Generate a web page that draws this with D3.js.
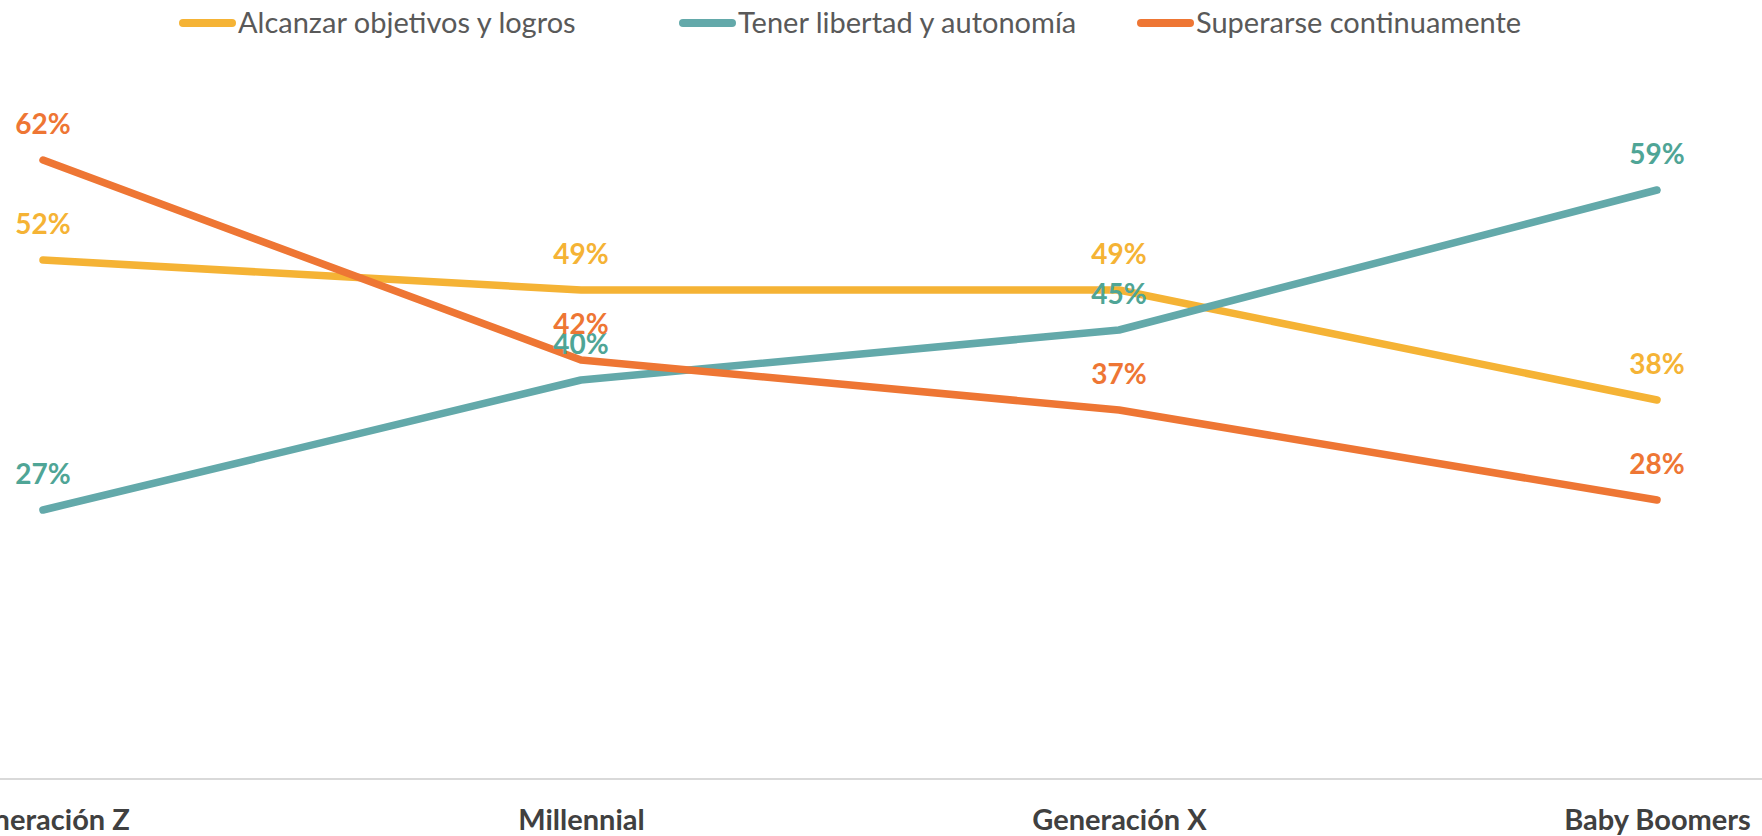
<!DOCTYPE html>
<html lang="es">
<head>
    <meta charset="UTF-8">
    <title>Motivaciones por generación</title>
    <script src="https://d3js.org/d3.v7.min.js"></script>
    <style>
        body {
            margin: 0;
            background: #fff;
            overflow: hidden;
        }
        svg {
            display: block;
            font-family: Lato, "Open Sans", sans-serif;
        }
        .legend-label {
            fill: #595959;
            font-size: 29px;
        }
        .cat-label {
            fill: #404040;
            font-size: 29px;
            font-weight: bold;
        }
        .data-label {
            font-size: 28px;
            font-weight: bold;
        }
        .series-line {
            fill: none;
            stroke-width: 7.5;
            stroke-linecap: round;
            stroke-linejoin: round;
        }
    </style>
</head>
<body>
    <svg id="chart" width="1762" height="836"></svg>
    <script>
        // datos
        const categories = ["Generación Z", "Millennial", "Generación X", "Baby Boomers"];
        const seriesNames = ["Alcanzar objetivos y logros", "Tener libertad y autonomía", "Superarse continuamente"];
        const logros = [0.52, 0.49, 0.49, 0.38];
        const libertad = [0.27, 0.40, 0.45, 0.59];
        const superarse = [0.62, 0.42, 0.37, 0.28];
        const lineColors = ["#F5B335", "#63A9AA", "#EE7634"];
        const labelColors = ["#F5B335", "#4FA596", "#EE7634"];

        const series = [logros, libertad, superarse].map((values, i) => ({
            name: seriesNames[i],
            values: values,
            color: lineColors[i],
            labelColor: labelColors[i]
        }));

        const svg = d3.select("#chart"),
              width = +svg.attr("width"),
              height = +svg.attr("height");

        const x = d3.scalePoint()
            .domain(categories)
            .range([43, 1657]);

        const y = d3.scaleLinear()
            .domain([0, 0.7])
            .range([780, 80]);

        // eje horizontal
        svg.append("line")
            .attr("x1", 0)
            .attr("x2", width)
            .attr("y1", 779)
            .attr("y2", 779)
            .attr("stroke", "#d9d9d9")
            .attr("stroke-width", 2);

        const xAxis = svg.append("g")
            .attr("transform", "translate(0, 779)")
            .call(d3.axisBottom(x).tickSize(0).tickPadding(0));
        xAxis.select(".domain").remove();
        xAxis.selectAll("text")
            .attr("class", "cat-label")
            .attr("dy", null)
            .attr("y", 51)
            .attr("fill", null);
        xAxis.attr("font-size", null).attr("font-family", null);

        const line = d3.line()
            .x((d, i) => x(categories[i]))
            .y(d => y(d));

        // líneas
        svg.selectAll(".series-line")
            .data(series)
            .join("path")
            .attr("class", "series-line")
            .attr("stroke", d => d.color)
            .attr("d", d => line(d.values));

        // etiquetas de datos
        series.forEach(s => {
            svg.append("g")
                .selectAll("text")
                .data(s.values)
                .join("text")
                .attr("class", "data-label")
                .attr("text-anchor", "middle")
                .attr("fill", s.labelColor)
                .attr("x", (d, i) => x(categories[i]))
                .attr("y", d => y(d) - 26)
                .text(d => d3.format(".0%")(d));
        });

        // leyenda
        const legendX = [179, 679, 1137];
        const legend = svg.append("g");
        series.forEach((s, i) => {
            const lx = legendX[i];
            const item = legend.append("g");
            item.append("line")
                .attr("x1", lx + 4)
                .attr("x2", lx + 53)
                .attr("y1", 23)
                .attr("y2", 23)
                .attr("stroke", s.color)
                .attr("stroke-width", 8)
                .attr("stroke-linecap", "round");
            item.append("text")
                .attr("class", "legend-label")
                .attr("x", lx + 59)
                .attr("y", 33)
                .text(s.name);
        });
    </script>
</body>
</html>
